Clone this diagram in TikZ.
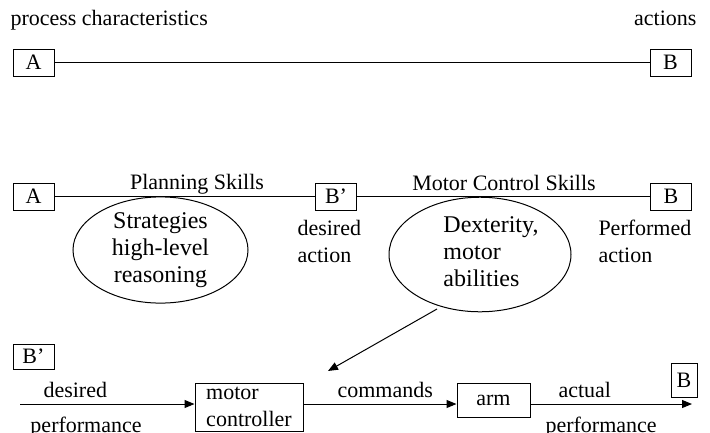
\documentclass[tikz,border=0pt]{standalone}
\usepackage{fontspec}
\setmainfont{Liberation Serif}
\usepackage{tikz}
\usetikzlibrary{arrows.meta}
\usetikzlibrary{shapes.geometric}

\begin{document}
\begin{tikzpicture}[x=1pt,y=-1pt,
    font=\fontsize{22}{27}\selectfont,
    line width=1pt,
    box/.style={draw,inner sep=0pt,minimum width=41pt,minimum height=27pt},
    blob/.style={draw,ellipse,inner sep=0pt,align=center,font=\fontsize{24}{27}\selectfont},
    lbl/.style={inner sep=0pt,anchor=base west,align=left},
    flow/.style={-{Triangle[length=10pt,width=8pt]}}]
    \useasboundingbox (0,0) rectangle (710,432);

    % process level
    \node[box] (a1) at (33.5,62.5) {A};
    \node[box] (b1) at (670.5,62.5) {B};
    \draw (a1) -- (b1);

    % skills level
    \node[box] (a2) at (33.5,196.5) {A};
    \node[box] (bp) at (336,196.5) {B'};
    \node[box] (b2) at (671,196.5) {B};
    \draw (a2) -- (bp);
    \draw (bp) -- (b2);
    \node[blob,minimum width=175pt,minimum height=94pt] (strat) at (160.5,250)
        {Strategies\\high-level\\reasoning};
    \node[blob,minimum width=182pt,minimum height=99pt] (dex) at (480,254.5)
        {\hspace*{22pt}\begin{tabular}{@{}l@{}}Dexterity,\\motor\\abilities\end{tabular}};

    % control loop
    \node[box,minimum height=25pt] (bp2) at (33.5,356.5) {B'};
    \node[box,minimum width=108pt,minimum height=48pt,align=left] (ctrl) at (249,407)
        {motor\\controller};
    \node[box,minimum width=73pt,minimum height=34pt] (arm) at (493.5,400) {arm};
    \node[box,minimum width=26pt,minimum height=34pt] (b3) at (684,380) {B};
    \coordinate (src) at (20,404);
    \coordinate (dst) at (692,404);
    \draw[flow] (src) -- (src -| ctrl.west);
    \draw[flow] (src -| ctrl.east) -- (src -| arm.west);
    \draw[flow] (src -| arm.east) -- (dst);
    \coordinate (dtail) at (437,309);
    \coordinate (dhead) at (328,371);
    \draw[flow] (dtail) -- (dhead);

    \foreach \x/\y/\t/\n in {
        10/25/process characteristics/pc,
        297/262/desired\\action/want,
        598/262/Performed\\action/done,
        43/397/desired/dp1,
        30/432/performance/dp2,
        337/397/commands/cmd,
        558/397/actual/ap1,
        545/432/performance/ap2}
        \node[lbl] (\n) at (\x,\y) {\t};
    \node[lbl,anchor=base east] (act) at (697,25) {actions};
    \node[lbl,anchor=base] (plan) at (197,189) {Planning Skills};
    \node[lbl,anchor=base] (mcs) at (504,190) {Motor Control Skills};

\end{tikzpicture}
\end{document}
